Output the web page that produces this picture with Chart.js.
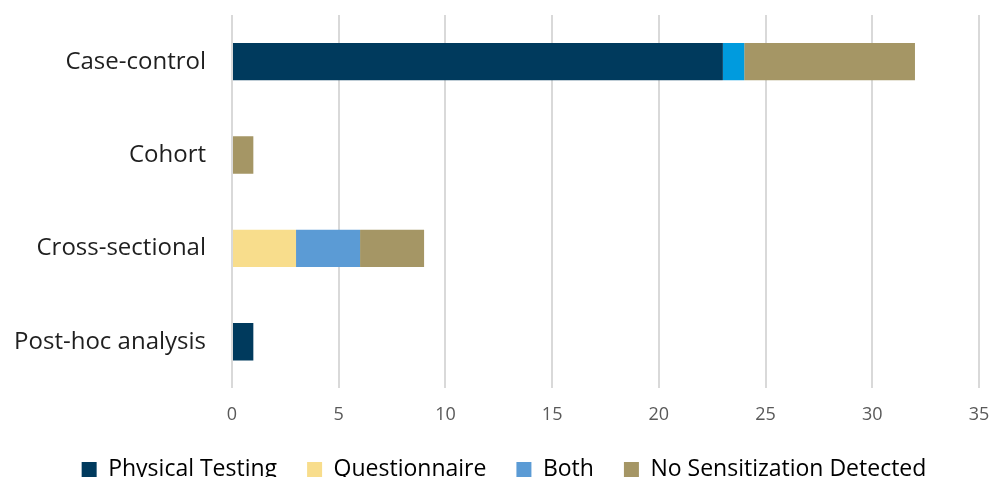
<!DOCTYPE html>
<html lang="en">
<head>
<meta charset="UTF-8">
<title>Study design</title>
<script src="https://cdn.jsdelivr.net/npm/chart.js"></script>
<style>
  html, body { margin: 0; padding: 0; background: #fff; overflow: hidden; }
  #wrap { position: relative; width: 1008px; height: 491px; }
</style>
</head>
<body>
<div id="wrap"><canvas id="chart"></canvas></div>
<script>
const categories = ['Case-control', 'Cohort', 'Cross-sectional', 'Post-hoc analysis'];
const seriesNames = ['Physical Testing', 'Questionnaire', 'Both', 'No Sensitization Detected'];
const physicalTesting = [23, 0, 0, 1];
const questionnaire = [0, 0, 3, 0];
const both = [1, 0, 3, 0];
const noSensitization = [8, 1, 3, 0];
const xTicks = [0, 5, 10, 15, 20, 25, 30, 35];

const font = "'Open Sans', 'Noto Sans', sans-serif";

new Chart(document.getElementById('chart'), {
    type: 'bar',
    data: {
        labels: categories,
        datasets: [
            { label: seriesNames[0], data: physicalTesting, backgroundColor: '#003a5d' },
            { label: seriesNames[1], data: questionnaire, backgroundColor: '#f8dd8c' },
            { label: seriesNames[2], data: both, backgroundColor: ['#009bde', '#5b9bd5', '#5b9bd5', '#5b9bd5'] },
            { label: seriesNames[3], data: noSensitization, backgroundColor: '#a59665' }
        ]
    },
    options: {
        indexAxis: 'y',
        responsive: true,
        maintainAspectRatio: false,
        animation: false,
        categoryPercentage: 1,
        barPercentage: 0.4,
        layout: { padding: { top: 15, right: 0, left: 0, bottom: 0 } },
        scales: {
            x: {
                stacked: true,
                min: 0,
                max: 35,
                afterBuildTicks: (axis) => { axis.ticks = xTicks.map(v => ({ value: v })); },
                afterFit: (axis) => { axis.paddingLeft = 0; axis.paddingRight = 29; axis.height -= 14; },
                grid: { color: '#d9d9d9', lineWidth: 2, drawTicks: false },
                border: { display: false },
                ticks: { color: '#595959', font: { family: font, size: 18 }, padding: 16 }
            },
            y: {
                stacked: true,
                grid: { display: false },
                border: { display: false },
                afterFit: (axis) => { axis.width = 232; axis.paddingTop = 0; axis.paddingBottom = 0; },
                ticks: { color: '#1f1f1f', font: { family: font, size: 24 }, padding: 18 }
            }
        },
        plugins: {
            legend: {
                position: 'bottom',
                labels: {
                    color: '#1f1f1f',
                    font: { family: font, size: 23 },
                    boxWidth: 15,
                    boxHeight: 15,
                    padding: 30,
                    generateLabels: (chart) => chart.data.datasets.map((ds, i) => ({
                        text: ds.label,
                        fillStyle: i === 2 ? '#5b9bd5' : ds.backgroundColor,
                        strokeStyle: 'transparent',
                        lineWidth: 0,
                        datasetIndex: i
                    }))
                }
            },
            tooltip: { enabled: false }
        }
    }
});
</script>
</body>
</html>
